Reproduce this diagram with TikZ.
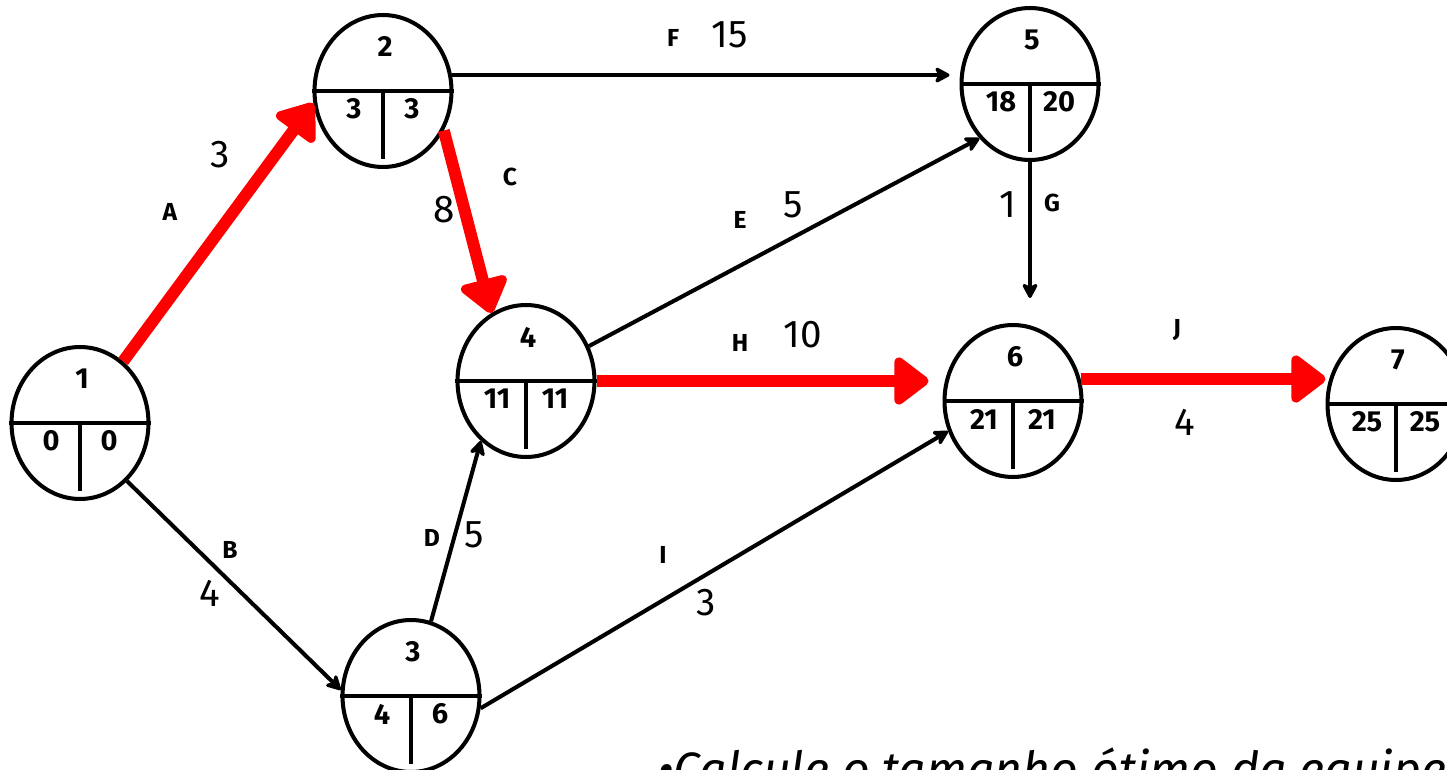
\documentclass[tikz,border=0pt]{standalone}
\usepackage{fontspec}
\setmainfont{Fira Sans}
\usetikzlibrary{arrows.meta,shapes.geometric,calc}
\tikzset{
  evento/.style={draw,ellipse,line width=2.3pt,minimum width=2.74cm,minimum height=3.04cm,inner sep=0pt},
  divisor/.style={line width=2.8pt},
  numero/.style={font=\fontsize{16.5}{18}\selectfont\bfseries,inner sep=0pt},
  atividade/.style={line width=2.3pt,-{Stealth[round,length=0.36cm,width=0.38cm,inset=0.1cm]}},
  critica/.style={draw=red,line width=6.8pt,-{Triangle[round,length=0.75cm,width=1.08cm]}},
  rotulo/.style={font=\fontsize{14}{16}\selectfont\bfseries,inner sep=0pt},
  duracao/.style={font=\fontsize{22}{24}\selectfont,inner sep=0pt}
}
\begin{document}
\begin{tikzpicture}[x=0.02cm,y=-0.02cm]
  \useasboundingbox (0,0) rectangle (1447,770);

  % eventos: numero / x / y / cedo / tarde
  \foreach \n/\x/\y/\es/\ls in {1/80/423/0/0, 2/383/91/3/3, 3/411/696/4/6,
      4/526/381/11/11, 5/1030/84/18/20, 6/1013/401/21/21, 7/1396/404/25/25}{
    \node[evento] (n\n) at (\x,\y) {};
    \draw[divisor] (n\n.west) -- (n\n.east);
    \draw[divisor] (n\n.center) -- ++(0,68);
    \node[numero] (t\n) at ($(n\n)+(2,-44)$) {\n};
    \node[numero] (e\n) at ($(n\n)+(-29,18)$) {\es};
    \node[numero] (l\n) at ($(n\n)+(29,18)$) {\ls};
  }

  % atividades
  \draw[critica] (n1.55) -- (n2.190);
  \draw[atividade] (n1.-51) -- (n3.175);
  \draw[critica] (n2.-33) -- (n4.117);
  \draw[atividade,shorten >=0.2cm] (n2.13) -- (n2.13 -| n5.west);
  \draw[atividade] (n4.29) -- (n5.227);
  \draw[critica,shorten >=0.28cm] (n4.east) -- (n4.east -| n6.west);
  \draw[atividade] (n3.75) -- (n4.233);
  \draw[atividade] (n3.-10) -- (n6.205);
  \draw[atividade,shorten >=0.5cm] (n5.south) -- (n5.south |- n6.north);
  \draw[critica] (n6.18) -- (n6.18 -| n7.west);

  \node[rotulo] (lA) at (170,212) {A};
  \node[duracao] (dA) at (220,155) {3};
  \node[rotulo] (lB) at (230,550) {B};
  \node[duracao] (dB) at (210,593) {4};
  \node[rotulo] (lC) at (510,177) {C};
  \node[duracao] (dC) at (444,210) {8};
  \node[rotulo] (lD) at (432,538) {D};
  \node[duracao] (dD) at (474,535) {5};
  \node[rotulo] (lE) at (740,220) {E};
  \node[duracao] (dE) at (793,205) {5};
  \node[rotulo] (lF) at (673,38) {F};
  \node[duracao] (dF) at (730,35) {15};
  \node[rotulo] (lG) at (1052,203) {G};
  \node[duracao] (dG) at (1008,205) {1};
  \node[rotulo] (lH) at (740,343) {H};
  \node[duracao] (dH) at (803,335) {10};
  \node[rotulo] (lI) at (663,555) {I};
  \node[duracao] (dI) at (706,603) {3};
  \node[rotulo] (lJ) at (1177,330) {J};
  \node[duracao] (dJ) at (1185,422) {4};

  \node[anchor=base west,inner sep=0pt,font=\fontsize{27.5}{30}\selectfont\itshape] (nota)
    at (658,786) {•Calcule o tamanho ótimo da equipe};
\end{tikzpicture}
\end{document}
